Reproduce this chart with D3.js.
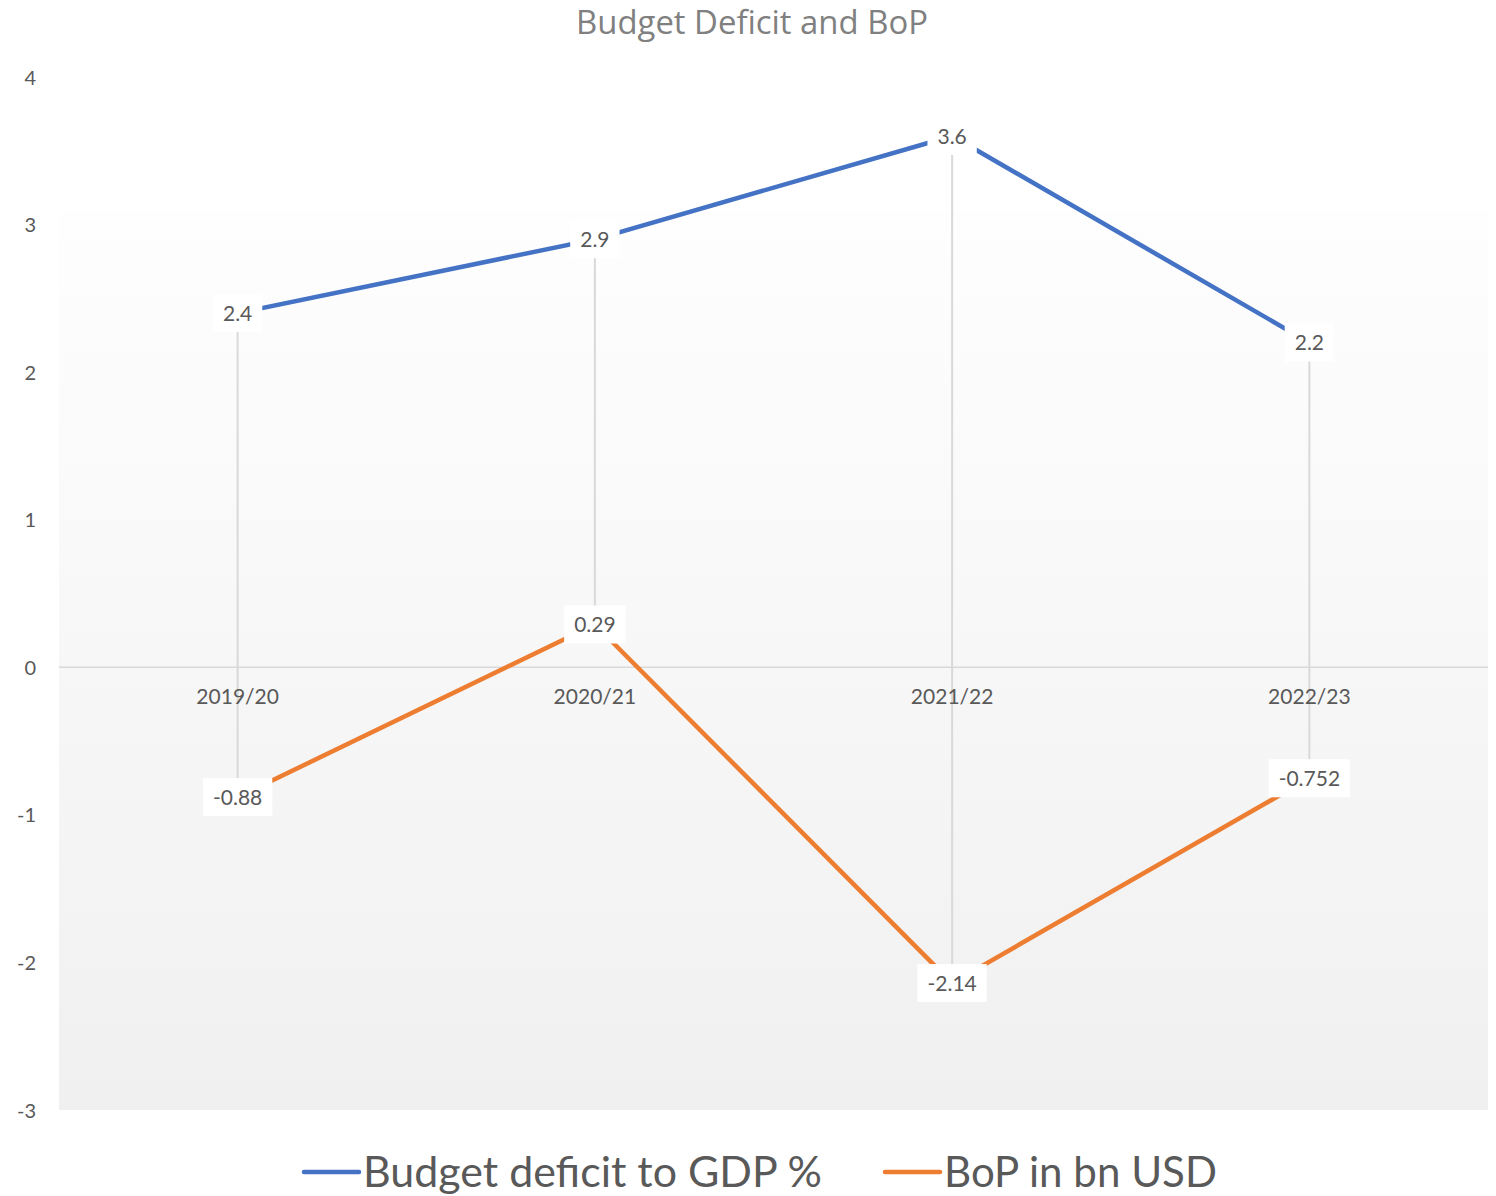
<!DOCTYPE html>
<html>
<head>
<meta charset="utf-8">
<script src="https://cdn.jsdelivr.net/npm/d3@7"></script>
<style>
  html, body { margin: 0; padding: 0; background: #fff; }
  svg { display: block; }
  text { font-family: Lato, "Open Sans", sans-serif; fill: #595959; }
</style>
</head>
<body>
<svg id="chart" width="1496" height="1196"></svg>
<script>
// Fiscal years on the category axis
const years = ["2019/20", "2020/21", "2021/22", "2022/23"];
// Budget deficit as a share of GDP (%)
const budgetDeficit = [2.4, 2.9, 3.6, 2.2];
// Balance of payments, billions of USD
const bop = [-0.88, 0.29, -2.14, -0.752];
// Value-axis ticks
const yTicks = [-3, -2, -1, 0, 1, 2, 3, 4];

const seriesNames = ["Budget deficit to GDP %", "BoP in bn USD"];
const colors = ["#4472C4", "#ED7D31"];

const plot = { left: 59, right: 1488, top: 77, bottom: 1110 };

const svg = d3.select("#chart");

const x = d3.scaleBand().domain(years).range([plot.left, plot.right]);
const xc = d => x(d) + x.bandwidth() / 2;
const y = d3.scaleLinear().domain([-3, 4]).range([plot.bottom, plot.top]);

// Plain hyphen for negatives, as in the data labels
const intFmt = v => String(v);

// Soft vertical gradient behind the plot
const defs = svg.append("defs");
const grad = defs.append("linearGradient").attr("id", "bg").attr("x1", 0).attr("y1", 0).attr("x2", 0).attr("y2", 1);
grad.append("stop").attr("offset", "0%").attr("stop-color", "#fefefe");
grad.append("stop").attr("offset", "100%").attr("stop-color", "#f0f0f0");
svg.append("rect")
  .attr("x", plot.left).attr("y", y(3.09))
  .attr("width", plot.right - plot.left).attr("height", plot.bottom - y(3.09))
  .attr("fill", "url(#bg)");

// Title
const title = svg.append("text")
  .attr("x", 752).attr("y", 34)
  .attr("text-anchor", "middle")
  .style("font-family", "'Open Sans', sans-serif")
  .style("font-size", "32px")
  .style("fill", "#808080")
  .text("Budget Deficit and BoP");
{
  const w = title.node().getComputedTextLength();
  if (w > 0) title.style("font-size", (32 * 352 / w).toFixed(2) + "px");
}

// Value axis labels
const yAxis = d3.axisLeft(y).tickValues(yTicks).tickSize(0).tickPadding(0).tickFormat(intFmt);
const yg = svg.append("g").attr("transform", `translate(36,0)`).call(yAxis);
yg.select(".domain").remove();
yg.selectAll("text").style("font-size", "20px").style("font-family", "Lato, sans-serif").attr("fill", "#595959").attr("dy", "0.35em");

// Horizontal zero line
svg.append("line")
  .attr("x1", plot.left).attr("x2", plot.right)
  .attr("y1", y(0)).attr("y2", y(0))
  .attr("stroke", "#d9d9d9").attr("stroke-width", 1.5);

// High-low lines between the two series
const hl = years.map((d, i) => ({ d, hi: Math.max(budgetDeficit[i], bop[i]), lo: Math.min(budgetDeficit[i], bop[i]) }));
svg.append("g").selectAll("line").data(hl).join("line")
  .attr("x1", d => xc(d.d)).attr("x2", d => xc(d.d))
  .attr("y1", d => y(d.hi)).attr("y2", d => y(d.lo))
  .attr("stroke", "#d9d9d9").attr("stroke-width", 2);

// Category labels sit just under the zero line
const xAxis = d3.axisBottom(x).tickSize(0).tickPadding(0);
const xg = svg.append("g").attr("transform", `translate(0,${y(0)})`).call(xAxis);
xg.select(".domain").remove();
xg.selectAll("text").style("font-size", "21px").style("font-family", "Lato, sans-serif").attr("fill", "#595959").attr("dy", "1.75em");

// Series lines
const line = d3.line().x((v, i) => xc(years[i])).y(v => y(v));
[budgetDeficit, bop].forEach((vals, k) => {
  svg.append("path")
    .datum(vals)
    .attr("d", line)
    .attr("fill", "none")
    .attr("stroke", colors[k])
    .attr("stroke-width", 4.5)
    .attr("stroke-linejoin", "round")
    .attr("stroke-linecap", "round");
});

// Data labels on white boxes, centred on each point
[budgetDeficit, bop].forEach((vals) => {
  const g = svg.append("g");
  vals.forEach((v, i) => {
    const lg = g.append("g").attr("transform", `translate(${xc(years[i])},${y(v)})`);
    const rect = lg.append("rect").attr("fill", "#fff");
    const t = lg.append("text")
      .attr("text-anchor", "middle").attr("dy", "0.36em")
      .style("font-size", "21px")
      .text(String(v));
    const w = t.node().getComputedTextLength();
    rect.attr("x", -w / 2 - 10).attr("y", -19).attr("width", w + 20).attr("height", 38);
  });
});

// Legend
const legendY = 1172;
const legendItems = [
  { name: seriesNames[0], color: colors[0], x0: 304, textW: 459 },
  { name: seriesNames[1], color: colors[1], x0: 885, textW: 273 }
];
legendItems.forEach(it => {
  svg.append("line")
    .attr("x1", it.x0).attr("x2", it.x0 + 55)
    .attr("y1", legendY).attr("y2", legendY)
    .attr("stroke", it.color).attr("stroke-width", 4.5).attr("stroke-linecap", "round");
  const t = svg.append("text")
    .attr("x", it.x0 + 59).attr("y", legendY + 15)
    .style("font-size", "43px")
    .text(it.name);
  const w = t.node().getComputedTextLength();
  if (w > 0) t.style("font-size", (43 * it.textW / w).toFixed(2) + "px");
});
</script>
</body>
</html>
